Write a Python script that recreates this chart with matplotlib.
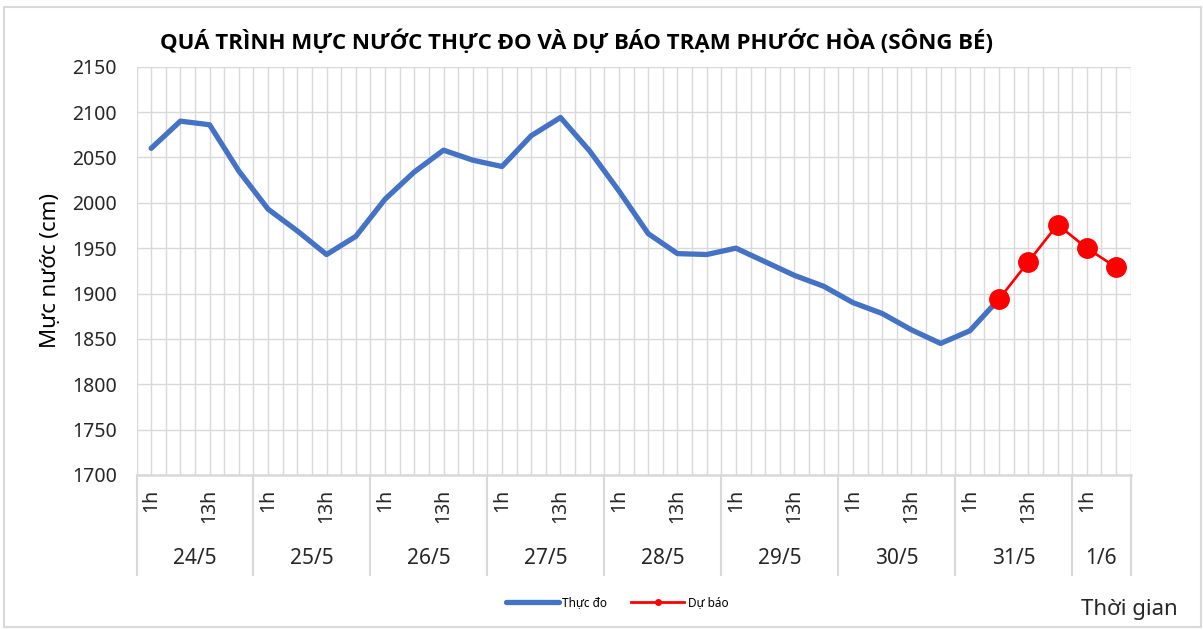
import numpy as np
import matplotlib
matplotlib.use('Agg')
import matplotlib.pyplot as plt
from matplotlib.lines import Line2D
from matplotlib.patches import Rectangle

plt.rcParams['font.family'] = ['Noto Sans', 'DejaVu Sans']

# du lieu doc tu hinh
days = ['24/5', '25/5', '26/5', '27/5', '28/5', '29/5', '30/5', '31/5', '1/6']
hours = ['1h', '7h', '13h', '19h']
n_per_day = [4, 4, 4, 4, 4, 4, 4, 4, 2]

thuc_do = [2060, 2090, 2086, 2035, 1993, 1969, 1943, 1963, 2004, 2034,
           2058, 2047, 2040, 2074, 2094, 2057, 2013, 1966, 1944, 1943,
           1950, 1935, 1920, 1908, 1890, 1878, 1860, 1845, 1859, 1894]
du_bao = [1894, 1935, 1976, 1950, 1929]
du_bao_start = 29

y_ticks = list(range(1700, 2151, 50))

W, H = 1203, 630
fig = plt.figure(figsize=(W / 100, H / 100), dpi=100)

left, right, top, bottom = 136.5, 1130.7, 66.7, 475
ax = fig.add_axes([left / W, 1 - bottom / H, (right - left) / W, (bottom - top) / H])

# nhan truc x
cat_labels = []
for d, n in zip(days, n_per_day):
    cat_labels.extend(hours[:n])
n_cat = len(cat_labels)

xx_do = np.arange(len(thuc_do))
xx_bao = np.arange(du_bao_start, du_bao_start + len(du_bao))

grid_c = '#D9D9D9'
for g in np.arange(-0.5, n_cat - 0.5 + 0.01, 0.5):
    ax.axvline(g, color=grid_c, lw=1.0, zorder=0)
for yv in y_ticks:
    ax.axhline(yv, color=grid_c, lw=1.0, zorder=0)

ax.plot(xx_do, thuc_do, color='#4472C4', lw=3.8, solid_capstyle='round',
        solid_joinstyle='round', zorder=3)
ax.plot(xx_bao, du_bao, color='#FF0000', lw=1.9, marker='o', markersize=14,
        zorder=4)

ax.set_xlim(-0.5, n_cat - 0.5)
ax.set_ylim(1700, 2150)
ax.set_xticks([])
ax.set_yticks(y_ticks)
ax.tick_params(axis='y', length=0, pad=14, labelsize=14, labelcolor='#262626')
for s in ax.spines.values():
    s.set_visible(False)

# bang nhan duoi truc
px = 1.0 / (bottom - top)
trans = ax.get_xaxis_transform()
ax.plot([-0.5, n_cat - 0.5], [0, 0], color=grid_c, lw=1.8, transform=trans,
        clip_on=False, zorder=2)
pos = -0.5
bounds = [pos]
for n in n_per_day:
    pos += n
    bounds.append(pos)
for b in bounds:
    ax.plot([b, b], [0, -100 * px], color=grid_c, lw=1.5, transform=trans,
            clip_on=False)

for k, lab in enumerate(cat_labels):
    if k % 2 == 0:
        ax.text(k, -14 * px, lab, rotation=90, ha='center', va='top',
                fontsize=14, color='#262626', transform=trans)

for i, d in enumerate(days):
    c = (bounds[i] + bounds[i + 1]) / 2
    ax.text(c, -84 * px, d, ha='center', va='center', fontsize=15,
            color='#262626', transform=trans)

ax.set_ylabel('Mực nước (cm)', fontsize=16, color='#000000', labelpad=8)

fig.text(576.5 / W, 1 - 42 / H,
         'QUÁ TRÌNH MỰC NƯỚC THỰC ĐO VÀ DỰ BÁO TRẠM PHƯỚC HÒA (SÔNG BÉ)',
         ha='center', va='center', fontsize=16, fontweight='bold',
         family=['Open Sans', 'DejaVu Sans'], color='#000000')

fig.text(1081 / W, 1 - 609 / H, 'Thời gian', ha='left', va='center',
         fontsize=16, color='#262626')

handles = [Line2D([0], [0], color='#4472C4', lw=3.8, solid_capstyle='round'),
           Line2D([0], [0], color='#FF0000', lw=2, marker='o', markersize=4)]
fig.legend(handles, ['Thực đo', 'Dự báo'], loc='center',
           bbox_to_anchor=(617 / W, 1 - 602.7 / H), ncol=2, frameon=False,
           fontsize=8.5, handlelength=4.5, columnspacing=2.0, handletextpad=0.3)

fig.patches.append(Rectangle((4 / W, 3 / H), 1197 / W, 620 / H,
                             transform=fig.transFigure, fill=False,
                             edgecolor=grid_c, lw=1.5))

fig.savefig('out.png', dpi=100)
